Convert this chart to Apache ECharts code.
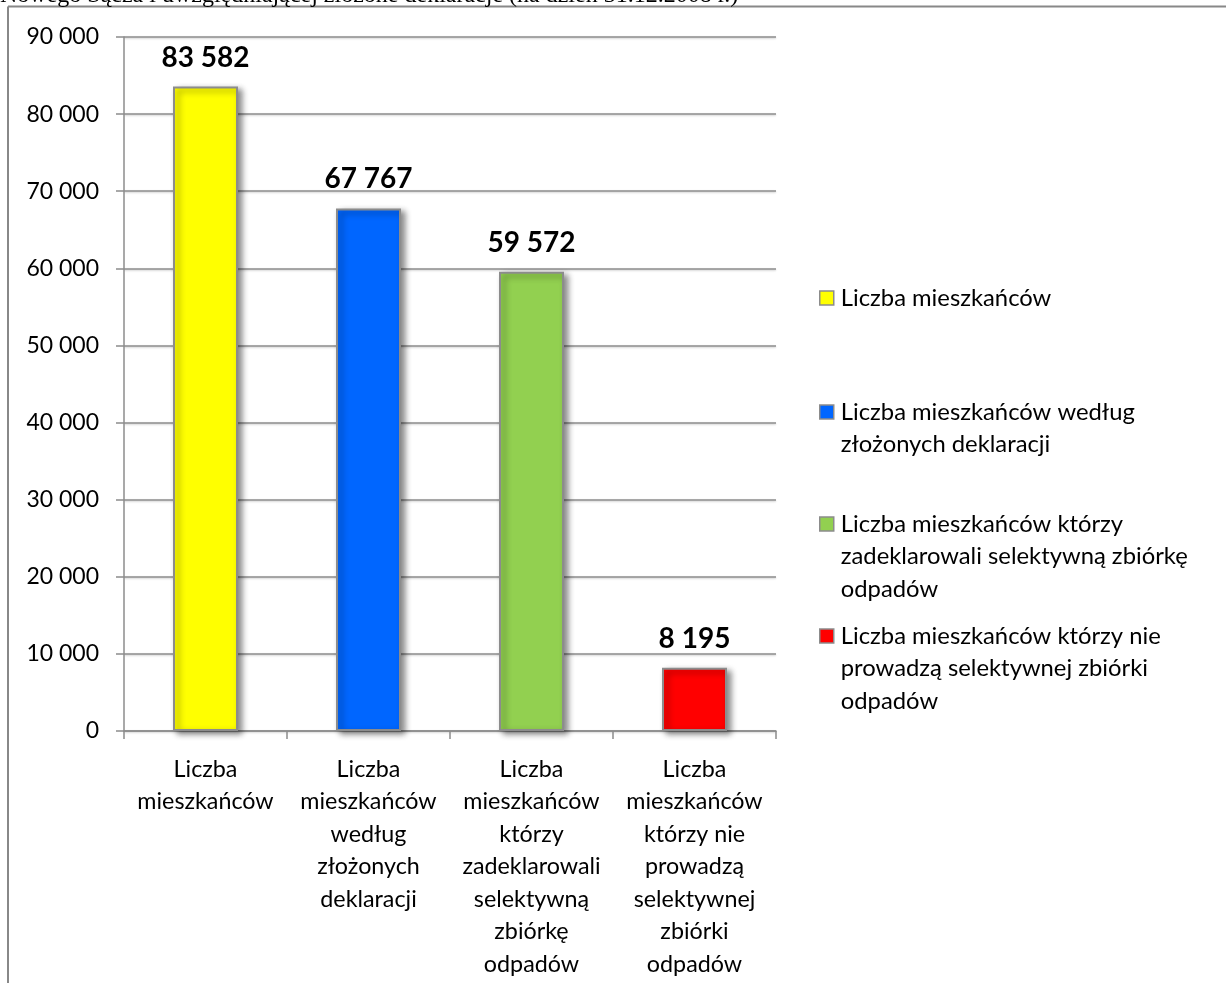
<!DOCTYPE html>
<html>
<head>
<meta charset="utf-8">
<script src="https://cdn.jsdelivr.net/npm/echarts@6/dist/echarts.min.js"></script>
<style>
html,body{margin:0;padding:0;background:#fff;}
#c{width:1226px;height:983px;}
</style>
</head>
<body>
<div id="c"></div>
<script>
const categories = [
  'Liczba mieszkańców',
  'Liczba mieszkańców według złożonych deklaracji',
  'Liczba mieszkańców którzy zadeklarowali selektywną zbiórkę odpadów',
  'Liczba mieszkańców którzy nie prowadzą selektywnej zbiórki odpadów'
];
const values = [83582, 67767, 59572, 8195];
const colors = ['#FFFF00', '#0066FF', '#92D050', '#FF0000'];
const axisLabels = [
  'Liczba\nmieszkańców',
  'Liczba\nmieszkańców\nwedług\nzłożonych\ndeklaracji',
  'Liczba\nmieszkańców\nktórzy\nzadeklarowali\nselektywną\nzbiórkę\nodpadów',
  'Liczba\nmieszkańców\nktórzy nie\nprowadzą\nselektywnej\nzbiórki\nodpadów'
];
const legendLabels = [
  'Liczba mieszkańców',
  'Liczba mieszkańców według\nzłożonych deklaracji',
  'Liczba mieszkańców którzy\nzadeklarowali selektywną zbiórkę\nodpadów',
  'Liczba mieszkańców którzy nie\nprowadzą selektywnej zbiórki\nodpadów'
];
const yTicks = [0, 10000, 20000, 30000, 40000, 50000, 60000, 70000, 80000, 90000];
const titleText = 'Nowego Sącza i uwzględniającej złożone deklaracje (na dzień 31.12.2008 r.)';

const FONT = 'Lato';
const LH = 32.5;
const fmt = v => String(v).replace(/\B(?=(\d{3})+(?!\d))/g, ' ');

const chart = echarts.init(document.getElementById('c'));

const legendFirstLineY = [298, 412, 524, 636];
const legends = categories.map((name, i) => {
  const n = legendLabels[i].split('\n').length;
  // prepend empty lines so that the first text line sits beside the icon
  const shifted = '\n'.repeat(n - 1) + legendLabels[i];
  return {
    orient: 'vertical',
    left: 819,
    top: legendFirstLineY[i] - (2 * n - 1) * LH / 2,
    padding: 0,
    itemWidth: 14,
    itemHeight: 14,
    icon: 'rect',
    selectedMode: false,
    itemStyle: { borderColor: '#8c8c8c', borderWidth: 1.5 },
    formatter: () => shifted,
    data: [name],
    textStyle: { fontFamily: FONT, fontSize: 23.8, color: '#000', lineHeight: LH, padding: [0, 0, 0, 2] }
  };
});

const series = categories.map((name, i) => ({
  name: name,
  type: 'bar',
  barWidth: 65,
  barGap: '-100%',
  data: values.map((v, j) => (j === i ? v : '-')),
  itemStyle: {
    color: colors[i],
    borderColor: '#8c8c8c',
    borderWidth: 2,
    shadowColor: 'rgba(0,0,0,0.45)',
    shadowBlur: 6,
    shadowOffsetX: 4,
    shadowOffsetY: 3
  },
  label: {
    show: true,
    position: 'top',
    distance: 15,
    formatter: p => fmt(p.value),
    fontFamily: FONT,
    fontWeight: 'bold',
    fontSize: 28,
    color: '#000'
  }
}));

chart.setOption({
  animation: false,
  backgroundColor: '#fff',
  grid: { left: 124, right: 450, top: 37, bottom: 252, containLabel: false },
  graphic: [
    { type: 'line', shape: { x1: 8, y1: 6.5, x2: 1226, y2: 6.5 }, style: { stroke: '#888', lineWidth: 2 } },
    { type: 'line', shape: { x1: 8, y1: 6.5, x2: 8, y2: 983 }, style: { stroke: '#888', lineWidth: 2 } },
    { type: 'text', left: 0, top: -16, style: { text: titleText, font: '24px "Liberation Serif"', fill: '#000' } }
  ],
  legend: legends,
  xAxis: {
    type: 'category',
    data: categories,
    axisLine: { lineStyle: { color: '#8c8c8c', width: 1.5 } },
    axisTick: { show: true, length: 8, lineStyle: { color: '#8c8c8c', width: 1.5 } },
    axisLabel: {
      interval: 0,
      margin: 22,
      formatter: (v, i) => axisLabels[i],
      fontFamily: FONT,
      fontSize: 23.3,
      lineHeight: LH,
      color: '#000',
      align: 'center'
    }
  },
  yAxis: {
    type: 'value',
    min: yTicks[0],
    max: yTicks[yTicks.length - 1],
    interval: yTicks[1] - yTicks[0],
    axisLine: { show: true, lineStyle: { color: '#8c8c8c', width: 1.5 } },
    axisTick: { show: true, length: 8, lineStyle: { color: '#8c8c8c', width: 1.5 } },
    splitLine: { lineStyle: { color: '#8c8c8c', width: 1.5, shadowColor: 'rgba(0,0,0,0.2)', shadowBlur: 2, shadowOffsetY: 1 } },
    axisLabel: {
      margin: 25,
      formatter: v => fmt(v),
      fontFamily: FONT,
      fontSize: 23,
      color: '#000'
    }
  },
  series: series
});
</script>
</body>
</html>
